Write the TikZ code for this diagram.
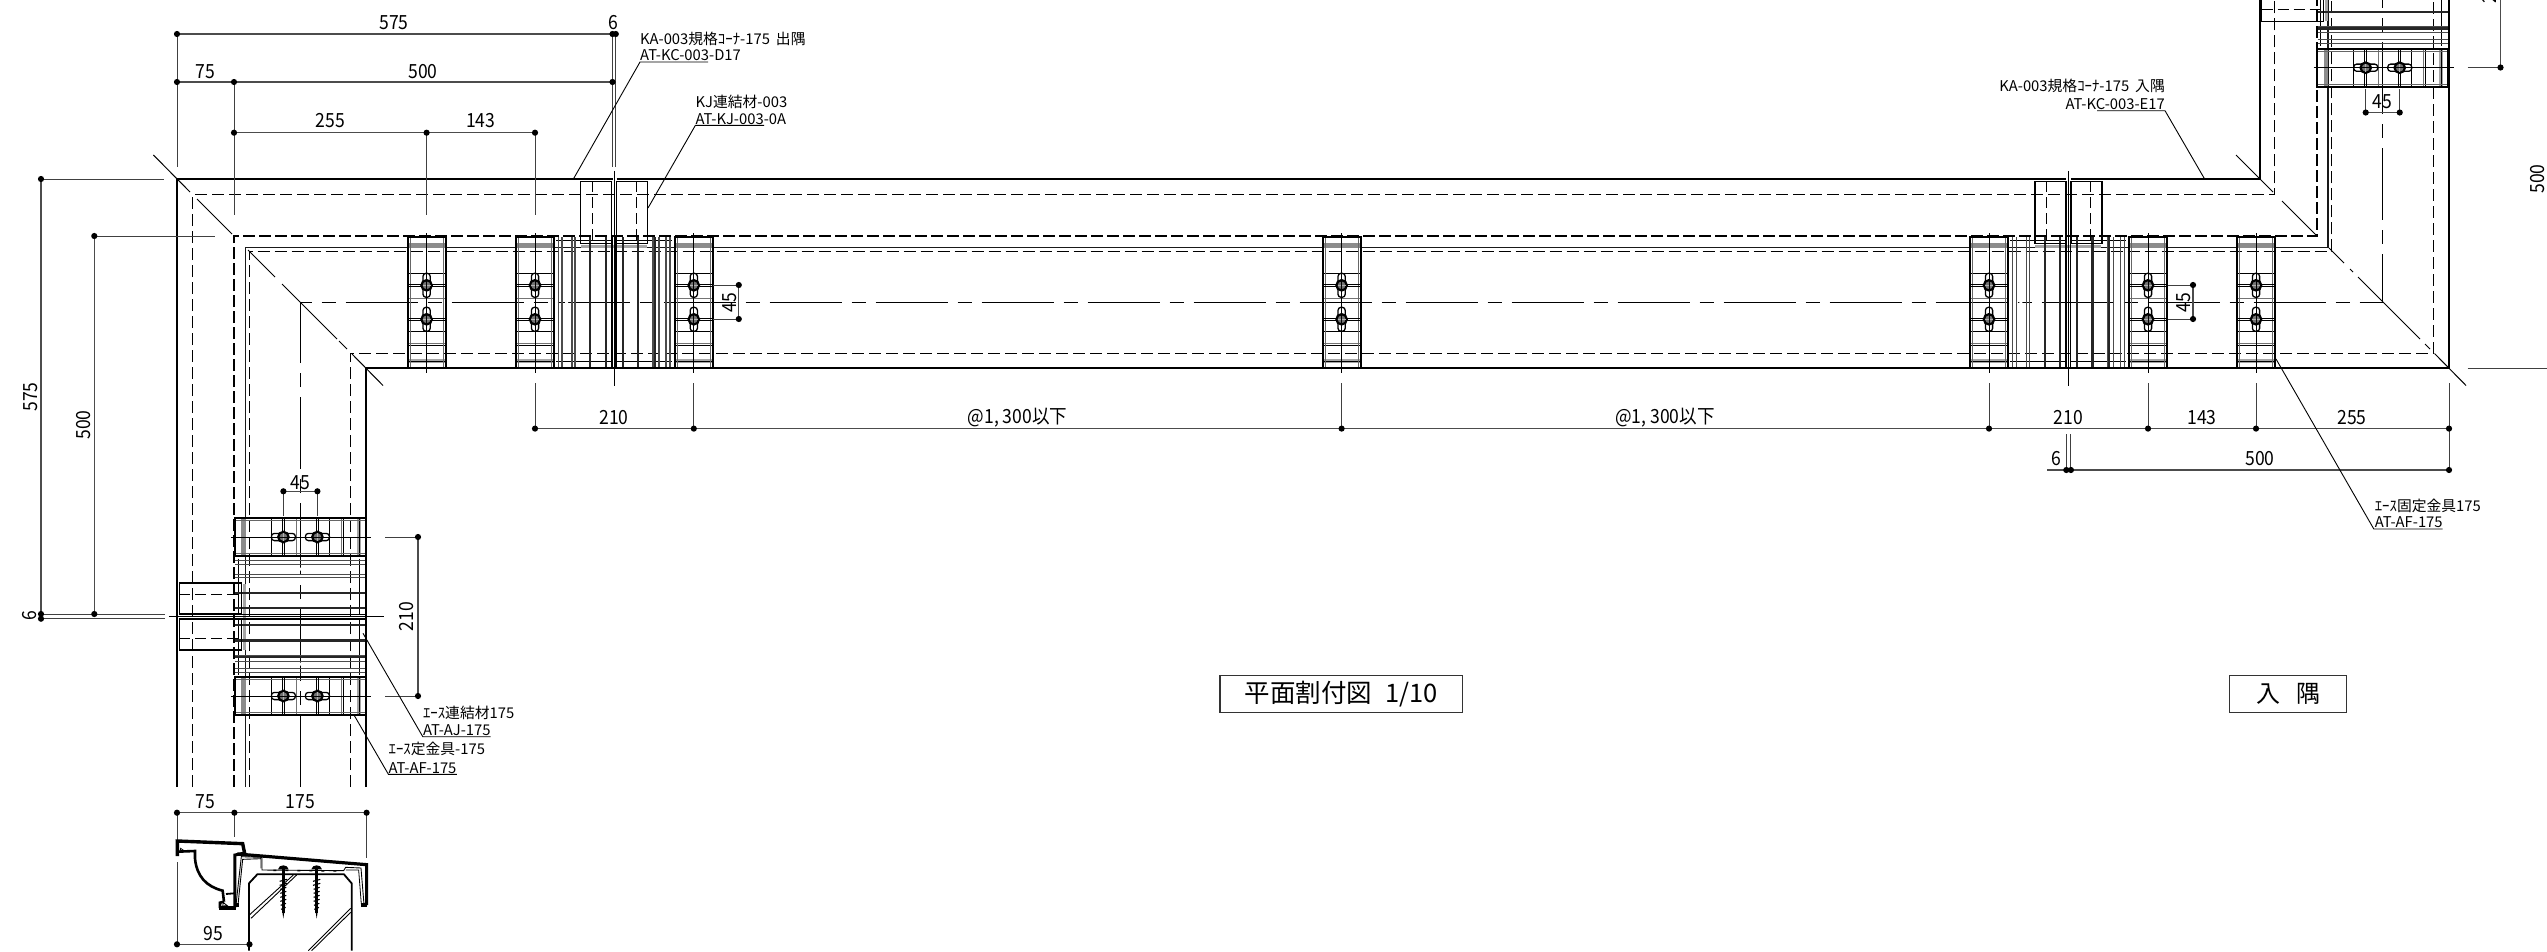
\documentclass[tikz,border=0pt]{standalone}
\usepackage{fontspec}
\setmainfont{Noto Sans CJK JP}
\newfontfamily\dimf[FakeStretch=0.9]{Noto Sans CJK JP}
\newfontfamily\lblf[FakeStretch=1.0]{Noto Sans CJK JP}
\tikzset{
 hrun/.style={x={(1pt,0pt)},y={(0pt,-1pt)}},
 vrun/.style={x={(0pt,-1pt)},y={(1pt,0pt)}},
 main/.style={line width=2pt,black},
 inner/.style={line width=1.6pt,black!90},
 fine/.style={line width=1pt,black},
 dimline/.style={line width=1.1pt,black!70},
 extline/.style={line width=1pt,black!75},
 leader/.style={line width=0.9pt,black},
 dash1/.style={line width=1.25pt,black,dash pattern=on 12pt off 5pt},
 dash2/.style={line width=2.1pt,black,dash pattern=on 12pt off 4pt},
 center1/.style={line width=1.1pt,black,dash pattern=on 72pt off 10pt on 14pt off 10pt},
 dimtext/.style={inner sep=0pt,font=\fontsize{19.5}{19.5}\selectfont\dimf},
 lbl/.style={inner sep=0pt,anchor=west,font=\fontsize{14.8}{15}\selectfont\lblf},
 lblr/.style={inner sep=0pt,anchor=east,font=\fontsize{14.8}{15}\selectfont\lblf},
 prof/.style={line width=3.4pt,black,line join=miter},
}
\newcommand\dt[2]{\fill (#1,#2) circle[radius=3.1pt];}
\newcommand\screw[2]{%
  \draw[line width=1.3pt,rounded corners=3pt] (#1-3.6,#2-12) rectangle (#1+3.6,#2+12);
  \draw[line width=1pt] (-19,#2-1.2)--(19,#2-1.2) (-19,#2+1.2)--(19,#2+1.2);
  \draw[line width=2.2pt,fill=black!55] (#1,#2) circle[radius=5.2pt];
  \draw[line width=0.7pt,black!30] (#1-4,#2)--(#1+4,#2) (#1,#2-4)--(#1,#2+4);
}
\newcommand\brk[3]{%
 \begin{scope}[shift={(#1,#2)},#3]
  \fill[black!45] (-18,-59) rectangle (18,-54.5);
  \fill[black!35] (-18,56.5) rectangle (18,60.5);
  \draw[line width=0.9pt] (-18,-29)--(18,-29) (-18,43)--(18,43) (-18,59)--(18,59) (-18,29)--(18,29);
  \draw[line width=0.8pt,black!55] (-18,-4)--(18,-4) (-18,41)--(18,41);
  \draw[line width=0.8pt,black!60] (-16.5,-65)--(-16.5,65) (16.5,-65)--(16.5,65);
  \screw{0}{-17}\screw{0}{17}
  \draw[line width=2pt] (-19,-65.6) rectangle (19,65.7);
  \draw[fine] (0,-69)--(0,71);
 \end{scope}}
\newcommand\jnt[3]{%
 \begin{scope}[shift={(#1,#2)},#3]
  \fill[black!35] (-33,-57.5) rectangle (33,-54.5);
  \draw[line width=0.9pt] (-58,-62)--(-2.2,-62) (2.2,-62)--(58,-62)
     (-58,59)--(-2.2,59) (2.2,59)--(58,59);
  \draw[line width=1.1pt,black!70] (-55.7,-65)--(-55.7,65) (-52,-65)--(-52,65) (-42,-65)--(-42,65) (-39,-65)--(-39,65) (39,-65)--(39,65) (45,-65)--(45,65) (52,-65)--(52,65) (56,-65)--(56,65);
  \draw[line width=2.2pt,black!85] (-23.7,-65)--(-23.7,65) (-8.3,-65)--(-8.3,65) (8.7,-65)--(8.7,65) (24,-65)--(24,65) (40.7,-65)--(40.7,65);
  \fill[white] (-49,-7) rectangle (-46,7) (46,-7) rectangle (49,7);
  \draw[line width=1.6pt] (-2.2,-66)--(-2.2,66)--(-59,66)  (2.2,-66)--(2.2,66)--(59,66);
  \draw[line width=1.3pt] (-2.5,-59)--(-2.5,-121)--(-33.5,-121)--(-33.5,-59)--(-2.5,-59);
  \draw[line width=1.3pt] (2.5,-59)--(2.5,-121)--(33.5,-121)--(33.5,-59)--(2.5,-59);
  \draw[line width=0.9pt,dash pattern=on 11pt off 5pt] (-22,-121)--(-22,-59) (22,-121)--(22,-59);
  \draw[line width=0.9pt] (0,-131.5)--(0,83.5);
 \end{scope}}
\begin{document}
\begin{tikzpicture}[x=1pt,y=-1pt]
\useasboundingbox (0,0) rectangle (2547,951);
\clip (0,0) rectangle (2547,951);
% run outlines
\draw[main] (177,787)--(177,179)--(612.5,179) (616.5,179)--(2066.3,179) (2070.9,179)--(2260,179)--(2260,0);
\draw[main] (366,787)--(366,368)--(2449,368)--(2449,0);
\draw[inner] (245.5,787)--(245.5,247.3)--(2328,247.3)--(2328,0);
\draw[dash1] (192.4,787)--(192.4,194.7)--(2274.7,194.7)--(2274.7,0);
\draw[dash2] (234,787)--(234,236)--(2316.8,236)--(2316.8,0);
\draw[dash1] (249.3,787)--(249.3,251.3)--(2331.7,251.3)--(2331.7,0);
\draw[dash1] (350.7,787)--(350.7,353.3)--(2433.6,353.3)--(2433.6,0);
\draw[center1] (300.4,787)--(300.4,302.3)--(2382.9,302.3)--(2382.9,0);
% mitres
\draw[fine] (153.4,155)--(190,192) (197,199)--(232,234) (248,250)--(275,277) (282,284)--(337,339) (339,341)--(347,349) (352,354)--(383,385.5);
\draw[fine] (2236,155)--(2273,192) (2282,201)--(2317,236) (2329,248)--(2344,263) (2350,269)--(2353,272) (2358,277)--(2420,339) (2425,344)--(2430,349) (2434.5,353.5)--(2466,385.5);
% brackets and joints
\brk{426.6}{302.3}{hrun}
\brk{535}{302.3}{hrun}
\brk{693.8}{302.3}{hrun}
\brk{1341.6}{302.3}{hrun}
\brk{1989}{302.3}{hrun}
\brk{2148}{302.3}{hrun}
\brk{2256}{302.3}{hrun}
\brk{300.4}{537}{vrun}
\brk{300.4}{696}{vrun}
\brk{2382.7}{67.7}{vrun}
\jnt{614}{302.3}{hrun}
\jnt{2068.4}{302.3}{hrun}
\jnt{300.4}{616.5}{vrun}
\jnt{2382.7}{-12.2}{vrun}
% top dimensions
\draw[dimline] (177,34)--(616,34) (177,82)--(612.5,82) (234,132.7)--(535,132.7);
\draw[extline] (177,34)--(177,167) (234,82)--(234,215) (612.5,34)--(612.5,167) (615.8,34)--(615.8,167) (426.6,132.7)--(426.6,215) (535,132.7)--(535,215);
\dt{177}{34}\dt{612.5}{34}\dt{615.8}{34}\dt{177}{82}\dt{234}{82}\dt{612.5}{82}\dt{234}{132.7}\dt{426.6}{132.7}\dt{535}{132.7}
\node[dimtext] (d575) at (394,23) {575};
\node[dimtext] (d6a) at (613.5,23) {6};
\node[dimtext] (d75a) at (205,71.5) {75};
\node[dimtext] (d500a) at (423,71.5) {500};
\node[dimtext] (d255a) at (330.6,120.7) {255};
\node[dimtext] (d143a) at (480.8,120.7) {143};
% left dimensions
\draw[extline] (41,179)--(164,179) (94.3,236)--(215,236) (41,614)--(165,614) (41,618.7)--(165,618.7);
\draw[dimline] (41,179)--(41,618.7) (94.3,236)--(94.3,614);
\dt{41}{179}\dt{94.3}{236}\dt{41}{614}\dt{41}{618.7}\dt{94.3}{614}
\node[dimtext,rotate=90] (d575b) at (31,397) {575};
\node[dimtext,rotate=90] (d500b) at (84,425) {500};
\node[dimtext,rotate=90] (d6b) at (30,616) {6};
% bottom dimensions
\draw[dimline] (535,428.6)--(2449,428.6) (2047,470)--(2449,470);
\draw[extline] (535,383)--(535,428.6) (693.8,383)--(693.8,428.6) (1341.6,383)--(1341.6,428.6) (1989,383)--(1989,428.6) (2148,383)--(2148,428.6) (2256,383)--(2256,428.6) (2449,383)--(2449,428.6);
\draw[extline] (2449,428.6)--(2449,470) (2066.3,434)--(2066.3,470) (2070.9,434)--(2070.9,470);
\dt{535}{428.6}\dt{693.8}{428.6}\dt{1341.6}{428.6}\dt{1989}{428.6}\dt{2148}{428.6}\dt{2256}{428.6}\dt{2449}{428.6}
\dt{2066.3}{470}\dt{2070.9}{470}\dt{2449}{470}
\node[dimtext] (d210a) at (614,417.5) {210};
\node[dimtext] (d1300a) at (1017.5,417.5) {@1,\hspace{4pt}300以下};
\node[dimtext] (d1300b) at (1665,417.5) {@1,\hspace{4pt}300以下};
\node[dimtext] (d210b) at (2068.4,418) {210};
\node[dimtext] (d143b) at (2202,418) {143};
\node[dimtext] (d255b) at (2352,418) {255};
\node[dimtext] (d6c) at (2056.8,459) {6};
\node[dimtext] (d500c) at (2260,459) {500};
% 45 dimensions
\draw[extline] (713.3,285)--(738.8,285) (713.3,319)--(738.8,319) (2167.5,285)--(2193,285) (2167.5,319)--(2193,319);
\draw[dimline] (738.8,285)--(738.8,319) (2193,285)--(2193,319);
\dt{738.8}{285}\dt{738.8}{319}\dt{2193}{285}\dt{2193}{319}
\node[dimtext,rotate=90] (d45c) at (729.3,302.3) {45};
\node[dimtext,rotate=90] (d45d) at (2183.5,302.3) {45};
\draw[dimline] (283.4,491.3)--(317.4,491.3);
\draw[extline] (283.4,491.3)--(283.4,516) (317.4,491.3)--(317.4,516);
\dt{283.4}{491.3}\dt{317.4}{491.3}
\node[dimtext] (d45a) at (300.4,483) {45};
\draw[dimline] (2365.7,112.5)--(2399.7,112.5);
\draw[extline] (2365.7,89)--(2365.7,112.5) (2399.7,89)--(2399.7,112.5);
\dt{2365.7}{112.5}\dt{2399.7}{112.5}
\node[dimtext] (d45b) at (2382.7,102) {45};
% 210 at left, right
\draw[extline] (385,537)--(418,537) (385,696)--(418,696);
\draw[dimline] (418,537)--(418,696);
\dt{418}{537}\dt{418}{696}
\node[dimtext,rotate=90] (d210c) at (407,616.7) {210};
\draw[extline] (2467.5,67.5)--(2500.5,67.5) (2467.5,368)--(2547,368);
\draw[dimline] (2500.5,0)--(2500.5,67.5);
\dt{2500.5}{67.5}
\node[dimtext,rotate=90] (d210d) at (2490,-11.5) {210};
\node[dimtext,rotate=90] (d500d) at (2538,179) {500};
% section dims
\draw[dimline] (177,812.7)--(366.6,812.7) (177,944.3)--(249.5,944.3);
\draw[extline] (177,812.7)--(177,840) (234.4,812.7)--(234.4,837) (366.6,812.7)--(366.6,858) (177,862)--(177,944.3);
\dt{177}{812.7}\dt{234.4}{812.7}\dt{366.6}{812.7}\dt{177}{944.3}\dt{249.5}{944.3}
\node[dimtext] (d75b) at (205.6,801.5) {75};
\node[dimtext] (d175) at (300.4,801.5) {175};
\node[dimtext] (d95) at (213,934) {95};
% leaders
\coordinate (la) at (640,62); \coordinate (lb) at (695.4,125.3); \coordinate (lc) at (2165,110.7);
\coordinate (ld) at (2373.8,529); \coordinate (le) at (422.8,736.7); \coordinate (lf) at (388.4,774.3);
\draw[leader] (708,62)--(la)--(573.4,179);
\draw[leader] (764,125.3)--(lb)--(648,208);
\draw[leader] (2097,110.7)--(lc)--(2204.6,179);
\draw[leader] (2442.7,529)--(ld)--(2276,359);
\draw[leader] (490.5,736.7)--(le)--(363,633.3);
\draw[leader] (456.8,774.3)--(lf)--(354,715);
\node[lbl] (t1) at (640,39) {KA-003規格ｺｰﾅ-175\hspace{6pt}出隅};
\node[lbl] (t2) at (640,55) {AT-KC-003-D17};
\node[lbl] (t3) at (695.4,101.7) {KJ連結材-003};
\node[lbl] (t4) at (695.4,118.7) {AT-KJ-003-0A};
\node[lblr] (t5) at (2165,85.7) {KA-003規格ｺｰﾅ-175\hspace{6pt}入隅};
\node[lblr] (t6) at (2165,103.6) {AT-KC-003-E17};
\node[lbl] (t7) at (2374.6,505.5) {ｴｰｽ固定金具175};
\node[lbl] (t8) at (2374.6,522.5) {AT-AF-175};
\node[lbl] (t9) at (422.8,712.7) {ｴｰｽ連結材175};
\node[lbl] (t10) at (422.8,730) {AT-AJ-175};
\node[lbl] (t11) at (388.4,749.3) {ｴｰｽ定金具-175};
\node[lbl] (t12) at (388.4,767.7) {AT-AF-175};
% title boxes
\draw[draw=black!80,line width=1.3pt] (1220,675.3) rectangle (1462.7,712.3);
\node[inner sep=0pt,font=\fontsize{25.5}{25.5}\selectfont] (ti1) at (1341.3,693.8) {平面割付図\hspace{13pt}1/10};
\draw[draw=black!80,line width=1.3pt] (2229.3,675.3) rectangle (2346.7,712.3);
\node[inner sep=0pt,font=\fontsize{24}{24}\selectfont] (ti2) at (2288,693.8) {入\hspace{16pt}隅};
% section
\begin{scope}[shift={(160,780)},x={(0.3333pt,0pt)},y={(0pt,-0.3333pt)}]
 \draw[prof] (52,228)--(52,183)--(248,191)--(254,220);
 \draw[line width=2.6pt] (52,215)--(105,213)--(105,235) .. controls (110,290) and (140,320) .. (188,332)--(192,365);
 \draw[line width=3.4pt] (178,384)--(228,384);
 \draw[line width=2.6pt] (192,365)--(180,368)--(180,384);
 \draw[line width=3pt] (225,382)--(225,225)--(254,219);
 \draw[line width=0.8pt] (62,205)--(72,212)--(60,214)--cycle (190,368)--(202,377)--(188,378)--cycle;
 \draw[line width=1.8pt] (198,342)--(222,340);
 \draw[line width=3.2pt] (232,222)--(620,254)--(620,375);
 \draw[line width=4pt] (604,376)--(622,376);
 \draw[line width=4pt] (222,376)--(238,376);
 \draw[line width=0.9pt] (234,375)--(248,238)--(303,236)--(303,265);
 \draw[line width=0.9pt] (228,375)--(244,230)--(306,232)--(306,270)--(551,272)--(557,262)--(603,264)--(612,372);
 \draw[line width=0.8pt] (558,270)--(596,270)--(604,372);
 \draw[line width=1.8pt] (267,512)--(267,310)--(292,283)--(552,283)--(575,310)--(575,512);
 \draw[line width=0.9pt] (268,405)--(400,285) (273,415)--(410,285) (445,512)--(572,385) (455,512)--(572,397);
 \foreach \s in {370,470} {
  \fill (\s-16,268)..controls (\s-14,252) and (\s+14,252)..(\s+16,268)--cycle;
  \draw[line width=2.5pt] (\s,268)--(\s,398);
  \fill (\s-3,395)--(\s+3,395)--(\s,416)--cycle;
  \draw[line width=1.1pt] (\s-11,304)--(\s+11,298) (\s-11,316)--(\s+11,310) (\s-9,328)--(\s+9,322) (\s-9,340)--(\s+9,334) (\s-9,352)--(\s+9,346) (\s-9,364)--(\s+9,358) (\s-8,376)--(\s+8,370) (\s-7,388)--(\s+7,382);
 }
 \draw[line width=1.5pt,dash pattern=on 3pt off 9pt] (340,271)--(540,273);
\end{scope}
\end{tikzpicture}
\end{document}
